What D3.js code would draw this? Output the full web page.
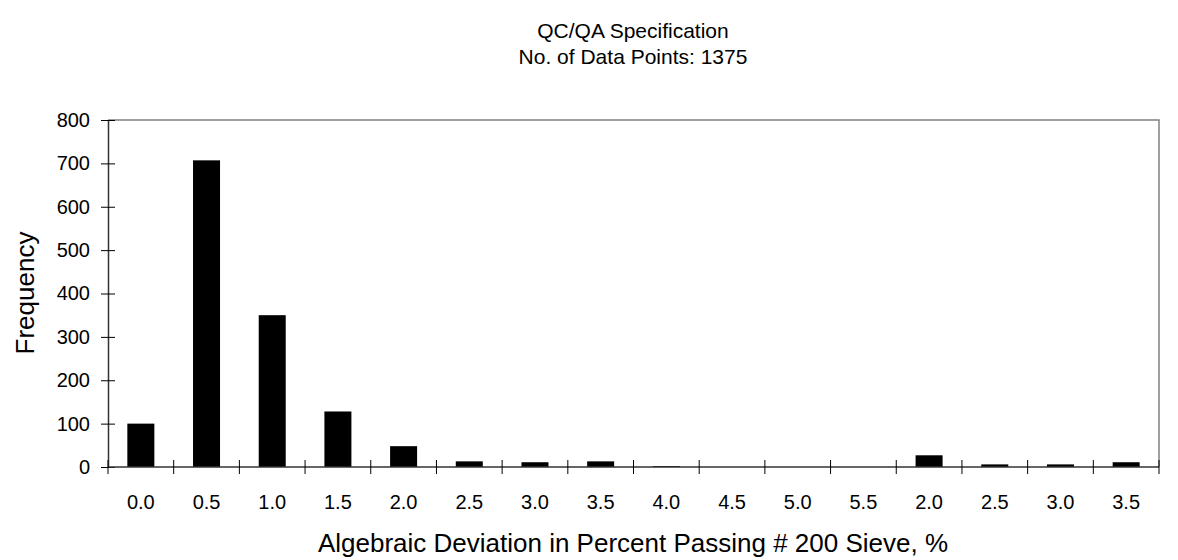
<!DOCTYPE html>
<html>
<head>
<meta charset="utf-8">
<script src="https://cdn.jsdelivr.net/npm/d3@7"></script>
<style>
  html, body { margin: 0; padding: 0; background: #fff; }
  svg text { font-family: "Liberation Sans", Arial, sans-serif; fill: #000; }
</style>
</head>
<body>
<svg id="chart" width="1178" height="560"></svg>
<script>
// Histogram bins (category labels repeat on the positive side of the spec)
const binLabels = ["0.0", "0.5", "1.0", "1.5", "2.0", "2.5", "3.0", "3.5", "4.0", "4.5", "5.0", "5.5", "2.0", "2.5", "3.0", "3.5"];
const frequency = [100, 707, 350, 128, 48, 13, 11, 13, 2, 0, 0, 0, 27, 6, 6, 11];
const yTicks = [0, 100, 200, 300, 400, 500, 600, 700, 800];
const titleLines = ["QC/QA Specification", "No. of Data Points: 1375"];
const xTitle = "Algebraic Deviation in Percent Passing # 200 Sieve, %";
const yTitle = "Frequency";

const svg = d3.select("#chart");
const W = 1178, H = 560;
const margin = { left: 108, right: W - 1159, top: 120, bottom: H - 467 };
const x0 = margin.left, x1 = W - margin.right, y0 = H - margin.bottom, y1 = margin.top;

const xb = d3.scaleBand().domain(d3.range(binLabels.length)).range([x0, x1]);
const y = d3.scaleLinear().domain([0, 800]).range([y0, y1]);
const barW = 27;

// plot frame (top and right)
svg.append("path")
  .attr("d", `M${x0},${y1}H${x1}V${y0}`)
  .attr("fill", "none").attr("stroke", "#808080").attr("stroke-width", 1.5);

// bars
svg.append("g").selectAll("rect").data(frequency).join("rect")
  .attr("x", (d, i) => xb(i) + (xb.bandwidth() - barW) / 2)
  .attr("width", barW)
  .attr("y", d => y(d))
  .attr("height", d => y0 - y(d))
  .attr("fill", "#000");

// y axis
const yAxis = d3.axisLeft(y).tickValues(yTicks).tickSize(0).tickPadding(18);
const gy = svg.append("g").attr("transform", `translate(${x0},0)`).call(yAxis);
gy.select(".domain").attr("stroke", "#333").attr("stroke-width", 1.5);
gy.selectAll(".tick text").attr("font-size", 20).attr("fill", "#000")
  .attr("font-family", "Liberation Sans, Arial, sans-serif");
gy.selectAll(".tick").append("line").attr("x1", -7).attr("x2", 7).attr("stroke", "#000");

// x axis with crossing ticks at bin boundaries
const gx = svg.append("g").attr("transform", `translate(0,${y0})`);
gx.append("line").attr("x1", x0).attr("x2", x1).attr("stroke", "#333").attr("stroke-width", 1.5);
const bounds = d3.range(binLabels.length + 1).map(i => i < binLabels.length ? xb(i) : x1);
gx.selectAll("line.tk").data(bounds).join("line").attr("class", "tk")
  .attr("x1", d => d).attr("x2", d => d).attr("y1", -7).attr("y2", 7).attr("stroke", "#000");
gx.selectAll("text").data(binLabels).join("text")
  .attr("x", (d, i) => xb(i) + xb.bandwidth() / 2)
  .attr("y", 42)
  .attr("text-anchor", "middle").attr("font-size", 20)
  .text(d => d);

// titles
svg.append("g").selectAll("text").data(titleLines).join("text")
  .attr("x", 633).attr("y", (d, i) => 38 + i * 26)
  .attr("text-anchor", "middle").attr("font-size", 21).text(d => d);

svg.append("text").attr("x", 633).attr("y", 552)
  .attr("text-anchor", "middle").attr("font-size", 26).text(xTitle);

svg.append("text").attr("transform", `translate(34,293) rotate(-90)`)
  .attr("text-anchor", "middle").attr("font-size", 26).text(yTitle);
</script>
</body>
</html>
